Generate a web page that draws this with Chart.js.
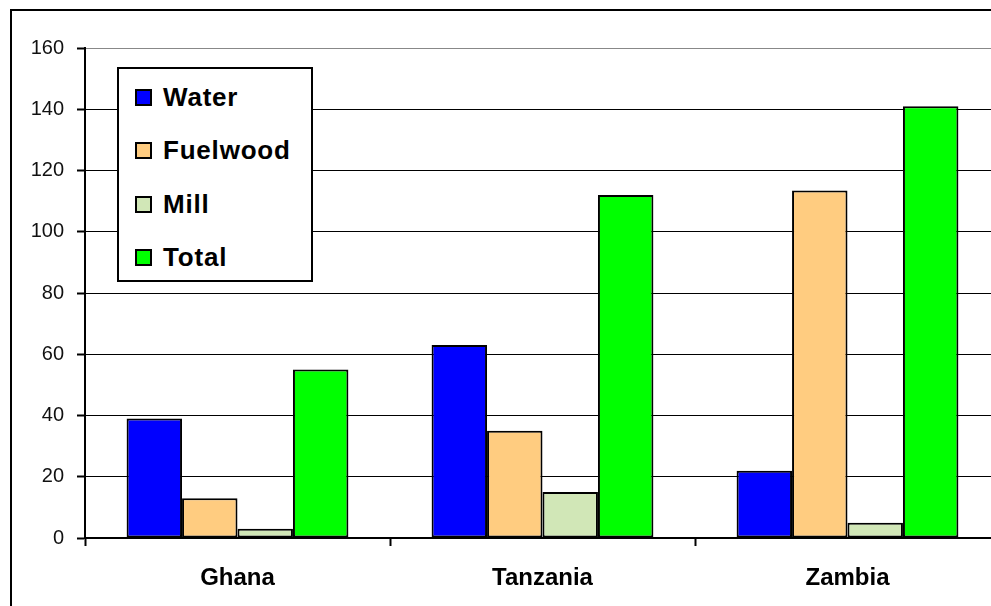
<!DOCTYPE html>
<html>
<head>
<meta charset="utf-8">
<script src="https://cdn.jsdelivr.net/npm/chart.js@4"></script>
<style>
    html, body { margin: 0; padding: 0; background: #fff; overflow: hidden; }
    #wrap { position: relative; width: 991px; height: 606px; overflow: hidden; }
    #frame { position: absolute; left: 10px; top: 9px; width: 1100px; height: 700px; border: 2px solid #000; box-sizing: border-box; }
    #chart { position: absolute; left: 0; top: 0; }
    #legend {
        position: absolute; left: 117px; top: 67px; width: 196px; height: 215px;
        border: 2px solid #000; box-sizing: border-box; background: #fff;
        font-family: "Liberation Sans", Arial, sans-serif; font-weight: bold; font-size: 26px;
    }
    .leg-row { position: absolute; left: 16px; height: 30px; display: flex; align-items: center; }
    .leg-box { width: 13px; height: 13px; border: 2px solid #000; margin-right: 11px; }
    .leg-text { letter-spacing: 0.8px; color: #000; }
</style>
</head>
<body>
<div id="wrap">
    <div id="frame"></div>
    <canvas id="chart" width="1002" height="606"></canvas>
    <div id="legend"></div>
</div>
<script>
// Data
const countries = ['Ghana', 'Tanzania', 'Zambia'];
const seriesNames = ['Water', 'Fuelwood', 'Mill', 'Total'];
const seriesColors = ['#0000FF', '#FFCC80', '#D1E7B7', '#00FF00'];
const water = [39, 63, 22];
const fuelwood = [13, 35, 113.5];
const mill = [3, 15, 5];
const total = [55, 112, 141];
const yTicks = [0, 20, 40, 60, 80, 100, 120, 140, 160];

const seriesValues = [water, fuelwood, mill, total];

// ============= LEGEND =============

function buildLegend() {
    const legend = document.getElementById('legend');
    let html = '';
    seriesNames.forEach((name, idx) => {
        const top = 13 + idx * 53.5;
        html += `
            <div class="leg-row" style="top:${top}px">
                <div class="leg-box" style="background:${seriesColors[idx]}"></div>
                <span class="leg-text">${name}</span>
            </div>`;
    });
    legend.innerHTML = html;
}

// ============= CHART =============

function initChart() {
    const ctx = document.getElementById('chart').getContext('2d');
    new Chart(ctx, {
        type: 'bar',
        data: {
            labels: countries,
            datasets: seriesNames.map((name, idx) => ({
                label: name,
                data: seriesValues[idx],
                backgroundColor: seriesColors[idx],
                borderColor: '#000',
                borderWidth: 2,
                borderSkipped: false,
                categoryPercentage: 4 / 5.5,
                barPercentage: 1
            }))
        },
        options: {
            responsive: false,
            animation: false,
            layout: { padding: { top: 48, right: 2, left: 0, bottom: 0 } },
            plugins: {
                legend: { display: false },
                tooltip: { enabled: false }
            },
            scales: {
                x: {
                    afterFit: (scale) => { scale.height = 68; },
                    border: { color: '#000', width: 2 },
                    grid: {
                        drawOnChartArea: false,
                        drawTicks: true,
                        tickLength: 8,
                        tickColor: '#000',
                        tickWidth: 2
                    },
                    ticks: {
                        color: '#000',
                        padding: 18,
                        font: { family: '"Liberation Sans", Arial, sans-serif', size: 24, weight: 'bold' }
                    }
                },
                y: {
                    min: 0,
                    max: 160,
                    afterFit: (scale) => { scale.width = 85; },
                    afterBuildTicks: (scale) => { scale.ticks = yTicks.map(v => ({ value: v })); },
                    border: { color: '#000', width: 2 },
                    grid: {
                        color: (c) => (c.tick && c.tick.value === 160) ? '#888' : '#000',
                        lineWidth: 1,
                        tickLength: 8,
                        tickColor: '#000',
                        tickWidth: 2
                    },
                    ticks: {
                        color: '#111',
                        padding: 13,
                        font: { family: '"Liberation Sans", Arial, sans-serif', size: 20 }
                    }
                }
            }
        }
    });
}

buildLegend();
initChart();
</script>
</body>
</html>
